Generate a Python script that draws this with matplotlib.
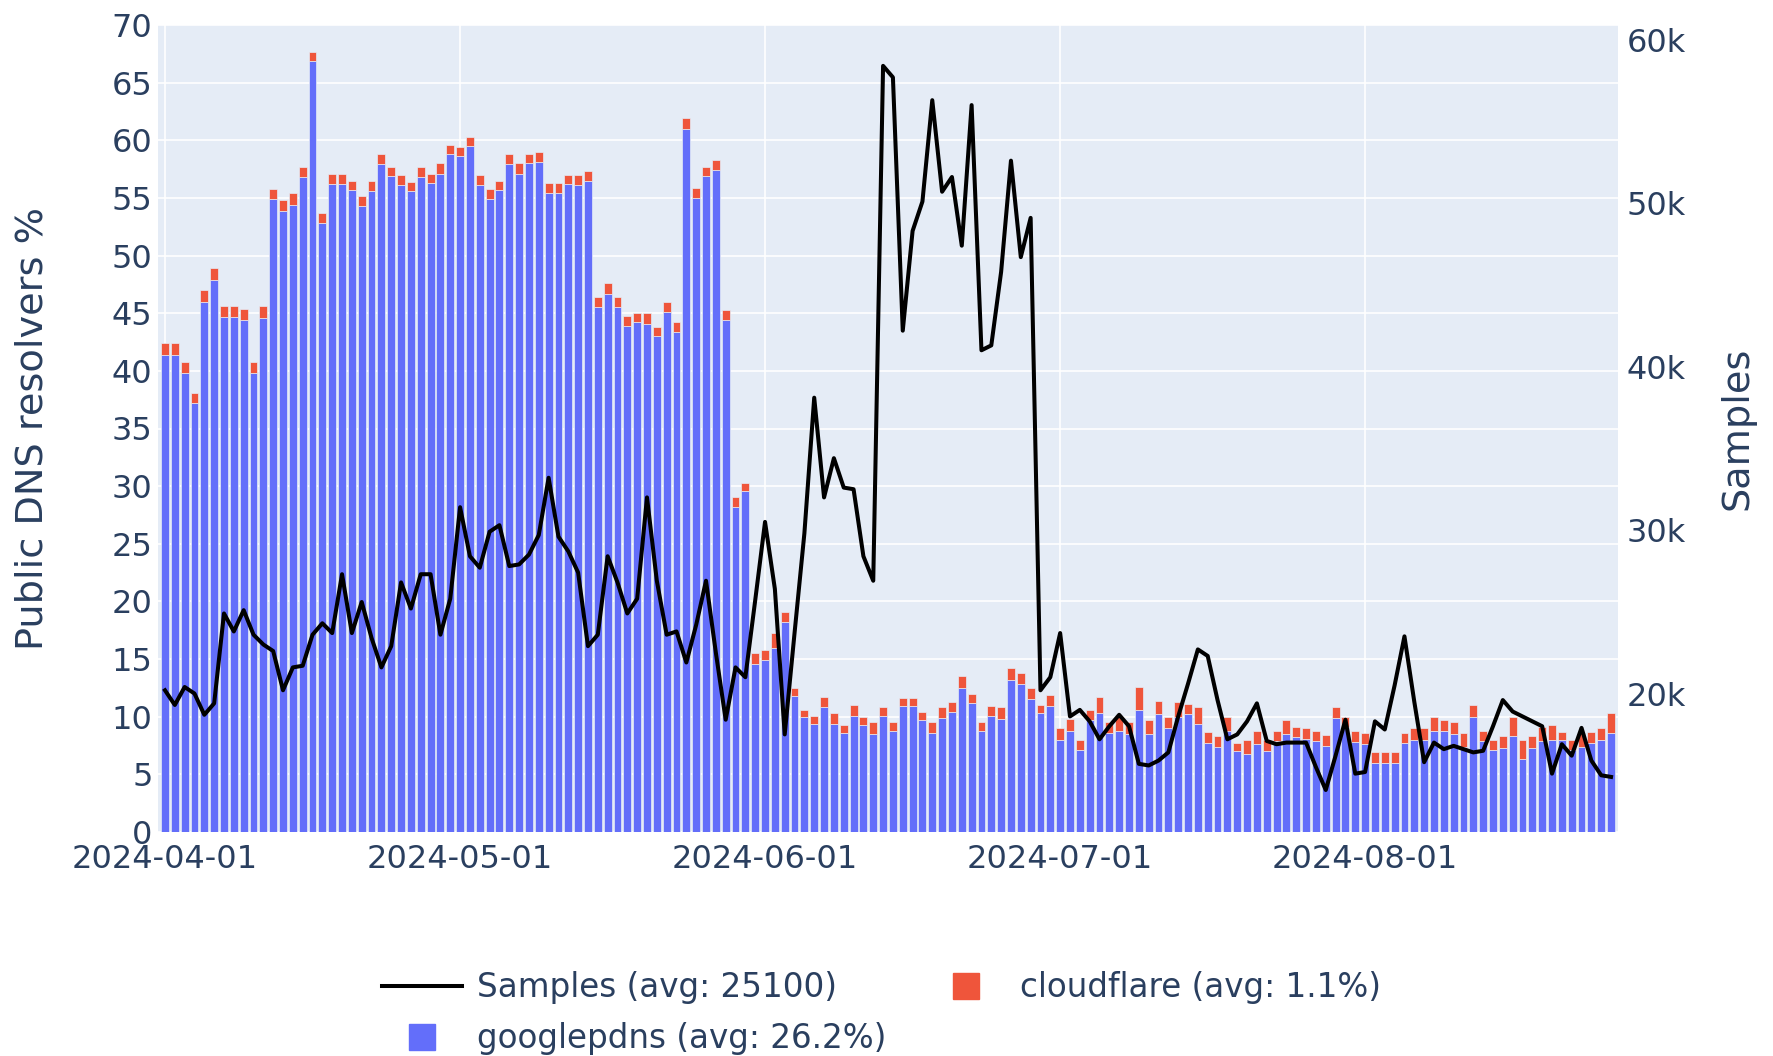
import pandas as pd
import matplotlib
matplotlib.use("Agg")
import matplotlib.pyplot as plt
import matplotlib.dates as mdates
from matplotlib.lines import Line2D
from matplotlib.ticker import FuncFormatter, MultipleLocator

#DATA
start_date = "2024-04-01"
n_days = 148

googlepdns = [
    41.4, 41.4, 39.8, 37.2, 46.0, 47.9, 44.7, 44.7, 44.4, 39.8,
    44.6, 54.9, 53.9, 54.4, 56.8, 66.9, 52.8, 56.2, 56.2, 55.7,
    54.3, 55.6, 57.9, 56.9, 56.1, 55.6, 56.8, 56.3, 57.1, 58.8,
    58.6, 59.5, 56.1, 54.9, 55.7, 57.9, 57.1, 58.0, 58.1, 55.4,
    55.4, 56.2, 56.1, 56.5, 45.5, 46.7, 45.5, 43.9, 44.2, 44.1,
    43.0, 45.1, 43.4, 61.0, 55.0, 56.9, 57.4, 44.4, 28.2, 29.6,
    14.6, 14.9, 16.0, 18.2, 11.8, 10.0, 9.4, 10.8, 9.4, 8.6,
    10.1, 9.3, 8.5, 10.1, 8.8, 10.9, 10.9, 9.7, 8.6, 9.9,
    10.4, 12.5, 11.2, 8.8, 10.1, 9.8, 13.2, 12.8, 11.5, 10.3,
    10.9, 8.0, 8.8, 7.1, 9.7, 10.3, 8.6, 8.8, 8.5, 10.6,
    8.5, 10.2, 9.0, 10.0, 10.2, 9.4, 7.7, 7.4, 8.8, 7.0,
    6.8, 7.6, 7.0, 7.9, 8.5, 8.2, 8.1, 7.9, 7.5, 9.9,
    9.1, 7.8, 7.6, 6.0, 6.0, 6.0, 7.7, 8.0, 8.0, 8.8,
    8.8, 8.5, 7.4, 10.0, 7.9, 7.1, 7.3, 8.3, 6.3, 7.3,
    7.9, 8.0, 8.0, 7.1, 7.4, 7.7, 8.0, 8.6,
]

cloudflare = [
    1.0, 1.0, 1.0, 0.9, 1.0, 1.0, 0.9, 0.9, 1.0, 1.0,
    1.0, 0.9, 0.9, 1.0, 0.9, 0.8, 0.9, 0.9, 0.9, 0.8,
    0.9, 0.9, 0.9, 0.8, 0.9, 0.8, 0.9, 0.8, 0.9, 0.8,
    0.8, 0.8, 0.9, 0.9, 0.8, 0.9, 0.9, 0.8, 0.9, 0.9,
    0.9, 0.8, 0.9, 0.8, 0.9, 0.9, 0.9, 0.9, 0.8, 0.9,
    0.8, 0.9, 0.8, 0.9, 0.9, 0.8, 0.9, 0.9, 0.9, 0.7,
    0.9, 0.9, 1.3, 0.9, 0.7, 0.6, 0.7, 0.9, 0.9, 0.7,
    0.9, 0.7, 1.0, 0.7, 0.7, 0.7, 0.7, 0.7, 0.9, 0.9,
    0.9, 1.0, 0.8, 0.7, 0.8, 1.0, 1.0, 1.0, 1.0, 0.7,
    1.0, 1.0, 1.0, 0.9, 0.9, 1.4, 0.9, 1.2, 1.0, 2.0,
    1.2, 1.2, 1.0, 1.3, 0.9, 1.4, 1.0, 0.9, 1.2, 0.7,
    1.2, 1.2, 1.0, 0.9, 1.2, 0.9, 0.9, 0.9, 0.9, 0.9,
    0.9, 1.0, 1.0, 0.9, 0.9, 0.9, 0.9, 1.0, 1.0, 1.2,
    0.9, 1.0, 1.2, 1.0, 0.9, 0.9, 1.0, 1.7, 1.7, 1.0,
    1.2, 1.3, 0.7, 0.9, 1.2, 1.0, 1.0, 1.7,
]

samples = [
    20200, 19300, 20400, 20000, 18700, 19400, 24900, 23800, 25100, 23600,
    23000, 22600, 20200, 21600, 21700, 23600, 24300, 23700, 27300, 23700,
    25600, 23400, 21600, 22900, 26800, 25200, 27300, 27300, 23600, 25800,
    31400, 28400, 27700, 29900, 30300, 27800, 27900, 28500, 29700, 33200,
    29600, 28700, 27400, 22900, 23600, 28400, 26800, 24900, 25800, 32000,
    26900, 23600, 23800, 21900, 24200, 26900, 22500, 18400, 21600, 21000,
    25700, 30500, 26400, 17500, 23700, 29800, 38100, 32000, 34400, 32600,
    32500, 28400, 26900, 58400, 57700, 42200, 48300, 50100, 56300, 50700,
    51600, 47400, 56000, 41000, 41300, 45800, 52600, 46700, 49100, 20200,
    21000, 23700, 18600, 19000, 18300, 17200, 18000, 18700, 18000, 15700,
    15600, 15900, 16400, 18600, 20600, 22700, 22300, 19600, 17200, 17500,
    18300, 19400, 17100, 16900, 17000, 17000, 17000, 15500, 14100, 16200,
    18400, 15100, 15200, 18300, 17800, 20500, 23500, 19500, 15800, 17000,
    16600, 16800, 16600, 16400, 16500, 18000, 19600, 18900, 18600, 18300,
    18000, 15100, 16900, 16200, 17900, 15900, 15000, 14900,
]

legend_labels = ["Samples (avg: 25100)", "googlepdns (avg: 26.2%)", "cloudflare (avg: 1.1%)"]

#STYLE
BG = "#E5ECF6"
TEXT = "#2a3f5f"
BLUE = "#636EFA"
RED = "#EF553B"

plt.rcParams['font.family'] = ['DejaVu Sans']

dates = pd.date_range(start_date, periods=n_days, freq="D")

fig = plt.figure(figsize=(17.74, 10.56), dpi=100)
ax = fig.add_axes([158 / 1774, 1 - 832 / 1056, 1460 / 1774, 807 / 1056])
ax.set_facecolor(BG)

ax.bar(dates, googlepdns, width=0.8, color=BLUE, edgecolor=BG, linewidth=0.5, zorder=2)
ax.bar(dates, cloudflare, width=0.8, bottom=googlepdns, color=RED, edgecolor=BG,
       linewidth=0.5, zorder=2)

ax.set_xlim(dates[0] - pd.Timedelta(hours=17), dates[-1] + pd.Timedelta(hours=17))
ax.set_ylim(0, 70)
ax.yaxis.set_major_locator(MultipleLocator(5))
ax.xaxis.set_major_locator(mdates.MonthLocator())
ax.xaxis.set_major_formatter(mdates.DateFormatter("%Y-%m-%d"))

ax.grid(True, color="white", linewidth=1.2)
ax.set_axisbelow(True)
for s in ax.spines.values():
    s.set_visible(False)
ax.tick_params(axis="both", length=0, labelsize=23, labelcolor=TEXT)
ax.tick_params(axis="y", pad=4)
ax.tick_params(axis="x", pad=9)
ax.set_ylabel("Public DNS resolvers %", fontsize=27.5, color=TEXT)
ax.yaxis.set_label_coords(-0.0733, 0.5)

#SAMPLES LINE
ax2 = ax.twinx()
ax2.plot(dates, samples, color="black", linewidth=2.9, zorder=3)
ax2.set_ylim(11530, 60900)
ax2.yaxis.set_major_locator(MultipleLocator(10000))
ax2.yaxis.set_major_formatter(FuncFormatter(lambda v, p: f"{int(round(v / 1000))}k"))
for s in ax2.spines.values():
    s.set_visible(False)
ax2.tick_params(axis="y", length=0, labelsize=23, labelcolor=TEXT, pad=6)
ax2.set_ylabel("Samples", fontsize=27.5, color=TEXT)
ax2.yaxis.set_label_coords(1.0698, 0.5)

#LEGEND
handles = [
    Line2D([], [], color="black", linewidth=2.9),
    Line2D([], [], marker="s", linestyle="none", markersize=19, color=BLUE),
    Line2D([], [], marker="s", linestyle="none", markersize=19, color=RED),
]
leg = fig.legend(handles, legend_labels, ncol=2, loc="upper left",
                 bbox_to_anchor=(382 / 1774, 1 - 971 / 1056), frameon=False,
                 fontsize=23.5, handlelength=2.45, handletextpad=0.46,
                 columnspacing=1.2, labelspacing=0.55, borderpad=0, borderaxespad=0)
for t in leg.get_texts():
    t.set_color(TEXT)

fig.savefig("out.png", dpi=100, facecolor="white")
